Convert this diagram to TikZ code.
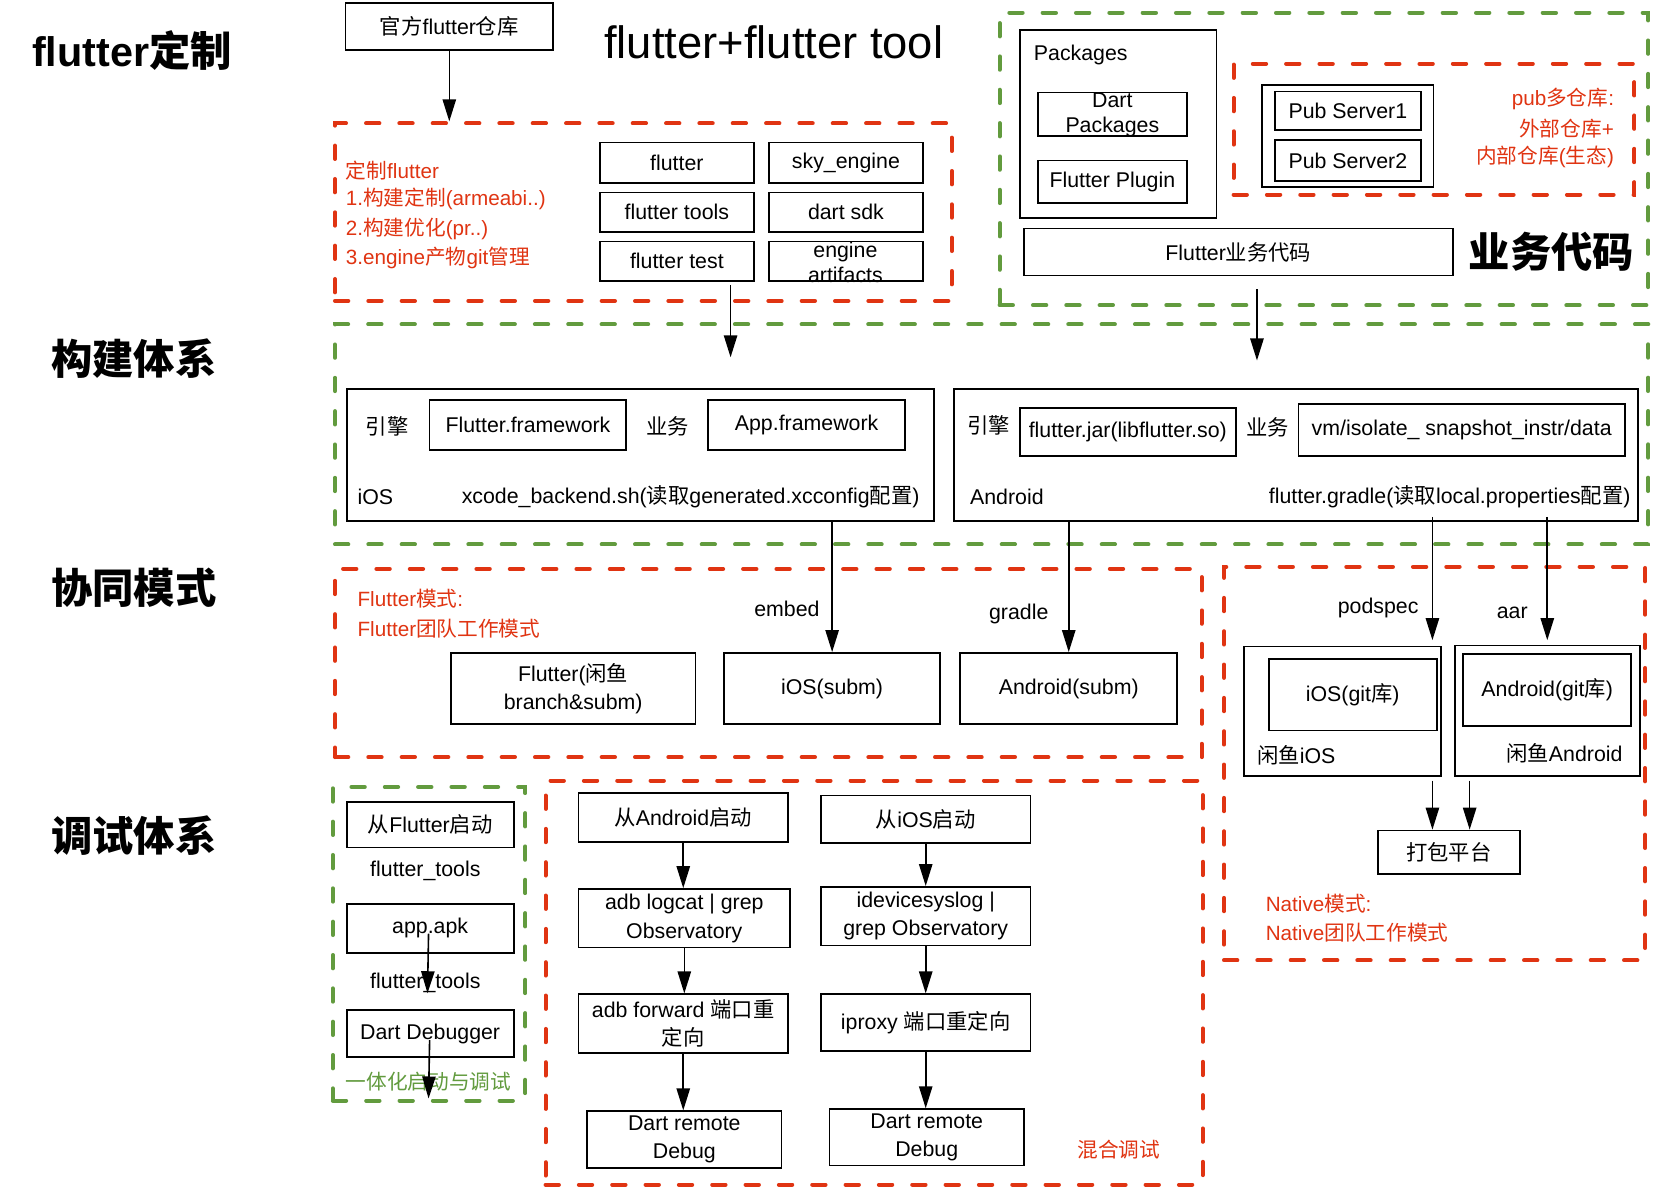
\documentclass[tikz,border=0pt]{standalone}
\usepackage{fontspec}
\setmainfont{Liberation Sans}
\newfontfamily\cjk{Noto Sans CJK SC}
\usetikzlibrary{arrows.meta}
\definecolor{myred}{RGB}{224,52,18}
\definecolor{mygreen}{RGB}{98,155,62}
\newcommand\zh[1]{{\cjk #1}}
\newcommand\fs{\fontsize{16}{21.5}\selectfont}
\newcommand\fsb{\fontsize{16}{18.5}\selectfont}
\newcommand\fr{\fontsize{15.5}{20}\selectfont}
\newcommand\ftl{\fontsize{31}{36}\selectfont\bfseries}
\newcommand\mybox[7][]{\node[box,minimum width={(#5-#3)*0.7975pt},minimum height={(#6-#4)*0.7975pt},#1] (#2) at ({(#3+#5)/2},{(#4+#6)/2}) {#7};}
\begin{document}
\begin{tikzpicture}[x=0.7975pt,y=-0.7975pt,
  box/.style={draw=black, line width=1.3pt, inner sep=0pt, font=\fs, align=center},
  redd/.style={draw=myred, line width=3pt, dash pattern=on 10pt off 15pt, line cap=round},
  greend/.style={draw=mygreen, line width=3pt, dash pattern=on 10pt off 15pt, line cap=round},
  arr/.style={-{Triangle[length=16.5pt,width=10pt]}, line width=1.2pt},
  lbl/.style={font=\fs, inner sep=0pt},
  rtxt/.style={font=\fr, text=myred, inner sep=0pt, anchor=west},
  ttl/.style={font=\ftl, inner sep=0pt, anchor=west}]
\fill[white] (0,0) rectangle (1561,1118);
\useasboundingbox (0,0) rectangle (1561,1118);

% ---- titles
\node[ttl] (tA) at (30,48) {flutter\zh{定制}};
\node[ttl] (tB) at (48,337) {\zh{构建体系}};
\node[ttl] (tC) at (48,553) {\zh{协同模式}};
\node[ttl] (tD) at (48,786) {\zh{调试体系}};
\node[ttl] (tE) at (1381,237) {\zh{业务代码}};
\node[font=\fontsize{34}{40}\selectfont, inner sep=0pt, anchor=west] (tF) at (568,40) {flutter+flutter tool};

% ---- flutter customisation
\mybox{official}{325}{3}{520}{47}{\zh{官方}flutter\zh{仓库}}
\mybox[redd]{cust}{315}{116}{895}{283}{}
\draw[arr] (official.south) -- (official.south |- cust.north);
\node[rtxt] (c1) at (325,160) {\zh{定制}flutter};
\node[rtxt] (c2) at (325,187) {1.\zh{构建定制}(armeabi..)};
\node[rtxt] (c3) at (325,215) {2.\zh{构建优化}(pr..)};
\node[rtxt] (c4) at (325,243) {3.engine\zh{产物}git\zh{管理}};
\mybox{gflutter}{564}{134}{709}{172}{flutter}
\mybox{gsky}{723}{134}{868}{172}{sky\_engine}
\mybox{gtools}{564}{181}{709}{218}{flutter tools}
\mybox{gdart}{723}{181}{868}{218}{dart sdk}
\mybox{gtest}{564}{227}{709}{264}{flutter test}
\mybox{gart}{723}{227}{868}{264}{}
\node[lbl, font=\fsb, align=center] (gartt) at (795,247) {engine\\artifacts};

% ---- packages / business code
\mybox[greend]{gpk}{940}{12}{1550}{287}{}
\mybox{pkgs}{959}{28}{1144}{205}{}
\node[lbl, anchor=west] (pkgst) at (972,52) {Packages};
\mybox{dartp}{976}{87}{1116}{128}{}
\node[lbl, font=\fsb, align=center] (dartpt) at (1046,108) {Dart\\Packages};
\mybox{fplug}{976}{151}{1116}{191}{Flutter Plugin}
\mybox[redd]{pubr}{1160}{60}{1537}{183}{}
\mybox{pubo}{1187}{80}{1348}{176}{}
\mybox{pub1}{1199}{86}{1336}{122}{Pub Server1}
\mybox{pub2}{1199}{132}{1336}{170}{Pub Server2}
\node[rtxt, anchor=east] (pr1) at (1518,93) {pub\zh{多仓库}:};
\node[rtxt, anchor=east] (pr2) at (1518,121) {\zh{外部仓库}+};
\node[rtxt, anchor=east] (pr3) at (1518,148) {\zh{内部仓库}(\zh{生态})};
\mybox{biz}{963}{215}{1366}{259}{Flutter\zh{业务代码}}

% ---- build system
\mybox[greend]{build}{315}{305}{1550}{512}{}
\coordinate (a1s) at (687,268);
\coordinate (a1e) at (687,336);
\draw[arr] (a1s) -- (a1e);
\coordinate (a2s) at (1182,272);
\coordinate (a2e) at (1182,339);
\draw[arr] (a2s) -- (a2e);

\mybox{iosbox}{326}{366}{878}{490}{}
\node[lbl] (ie) at (364,401) {\zh{引擎}};
\mybox{ffw}{404}{376}{589}{423}{Flutter.framework}
\node[lbl] (ib) at (628,401) {\zh{业务}};
\mybox{afw}{666}{376}{851}{423}{App.framework}
\node[lbl, anchor=west] (iost) at (336,467) {iOS};
\node[lbl, anchor=west] (xcb) at (434,467) {xcode\_backend.sh(\zh{读取}generated.xcconfig\zh{配置})};

\mybox{andbox}{897}{366}{1540}{490}{}
\node[lbl] (ae) at (930,400) {\zh{引擎}};
\mybox{fjar}{959}{384}{1162}{429}{flutter.jar(libflutter.so)}
\node[lbl] (ab) at (1192,402) {\zh{业务}};
\mybox{vmb}{1221}{380}{1528}{429}{vm/isolate\_ snapshot\_instr/data}
\node[lbl, anchor=west] (andt) at (912,467) {Android};
\node[lbl, anchor=west] (fgr) at (1193,467) {flutter.gradle(\zh{读取}local.properties\zh{配置})};

% ---- collaboration: flutter mode
\mybox[redd]{fmode}{315}{535}{1130}{712}{}
\node[rtxt] (fm1) at (336,563) {Flutter\zh{模式}:};
\node[rtxt] (fm2) at (336,591) {Flutter\zh{团队工作模式}};
\node[lbl] (embed) at (740,573) {embed};
\node[lbl] (gradle) at (958,577) {gradle};
\mybox{fxy}{424}{614}{654}{681}{Flutter(\zh{闲鱼}\\branch\&subm)}
\mybox{iossubm}{681}{614}{884}{681}{iOS(subm)}
\mybox{andsubm}{903}{614}{1107}{681}{Android(subm)}
\draw[arr] (iossubm.north |- iosbox.south) -- (iossubm.north);
\draw[arr] (andsubm.north |- andbox.south) -- (andsubm.north);

% ---- collaboration: native mode
\mybox[redd]{nmode}{1151}{533}{1547}{903}{}
\node[lbl] (podspec) at (1296,572) {podspec};
\node[lbl] (aar) at (1422,576) {aar};
\mybox{xyios}{1170}{608}{1355}{730}{}
\mybox{iosgit}{1193}{620}{1351}{687}{iOS(git\zh{库})}
\node[lbl, anchor=west] (xyiost) at (1182,710) {\zh{闲鱼}iOS};
\mybox{xyand}{1368}{607}{1542}{730}{}
\mybox{andgit}{1376}{615}{1534}{683}{Android(git\zh{库})}
\node[lbl, anchor=east] (xyandt) at (1526,708) {\zh{闲鱼}Android};
\coordinate (ps) at (1347,486);
\coordinate (pe) at (1347,602);
\draw[arr] (ps) -- (pe);
\coordinate (as) at (1455,486);
\coordinate (ae2) at (1455,602);
\draw[arr] (as) -- (ae2);
\mybox{pack}{1296}{781}{1429}{822}{\zh{打包平台}}
\coordinate (p1) at (1347,734);
\coordinate (p2) at (1382,734);
\draw[arr] (p1) -- (p1 |- pack.north);
\draw[arr] (p2) -- (p2 |- pack.north);
\node[rtxt] (nm1) at (1190,850) {Native\zh{模式}:};
\node[rtxt] (nm2) at (1190,877) {Native\zh{团队工作模式}};

% ---- debugging: integrated
\mybox[greend]{dbg}{313}{740}{494}{1035}{}
\mybox{fstart}{326}{754}{483}{797}{\zh{从}Flutter\zh{启动}}
\node[lbl] (ft1) at (400,819) {flutter\_tools};
\mybox{apk}{326}{850}{483}{896}{app.apk}
\node[lbl] (ft2) at (400,924) {flutter\_tools};
\mybox{ddbg}{326}{950}{483}{994}{Dart Debugger}
\node[font=\fr, text=mygreen, inner sep=0pt, anchor=west] (integ) at (325,1017) {\zh{一体化启动与调试}};
\coordinate (g1s) at (403,878);
\coordinate (g1e) at (402,934);
\draw[arr] (g1s) -- (g1e);
\coordinate (g2s) at (404,978);
\coordinate (g2e) at (403,1033);
\draw[arr] (g2s) -- (g2e);

% ---- debugging: mixed
\mybox[redd]{mixed}{513}{734}{1131}{1114}{}
\mybox{aStart}{544}{746}{741}{792}{\zh{从}Android\zh{启动}}
\mybox{aLog}{544}{836}{743}{891}{adb logcat | grep\\Observatory}
\mybox{aFwd}{544}{935}{741}{990}{adb forward \zh{端口重}\\\zh{定向}}
\mybox{aDart}{552}{1045}{735}{1098}{Dart remote\\Debug}
\draw[arr] (aStart.south) -- (aStart.south |- aLog.north);
\draw[arr] (aLog.south) -- (aLog.south |- aFwd.north);
\draw[arr] (aFwd.south) -- (aFwd.south |- aDart.north);
\mybox{iStart}{772}{748}{969}{793}{\zh{从}iOS\zh{启动}}
\mybox{iLog}{772}{834}{969}{889}{idevicesyslog |\\grep Observatory}
\mybox{iPx}{772}{935}{969}{988}{iproxy \zh{端口重定向}}
\mybox{iDart}{780}{1043}{963}{1096}{Dart remote\\Debug}
\draw[arr] (iStart.south) -- (iStart.south |- iLog.north);
\draw[arr] (iLog.south) -- (iLog.south |- iPx.north);
\draw[arr] (iPx.south) -- (iPx.south |- iDart.north);
\node[font=\fr, text=myred, inner sep=0pt] (mixt) at (1052,1081) {\zh{混合调试}};
\end{tikzpicture}
\end{document}
